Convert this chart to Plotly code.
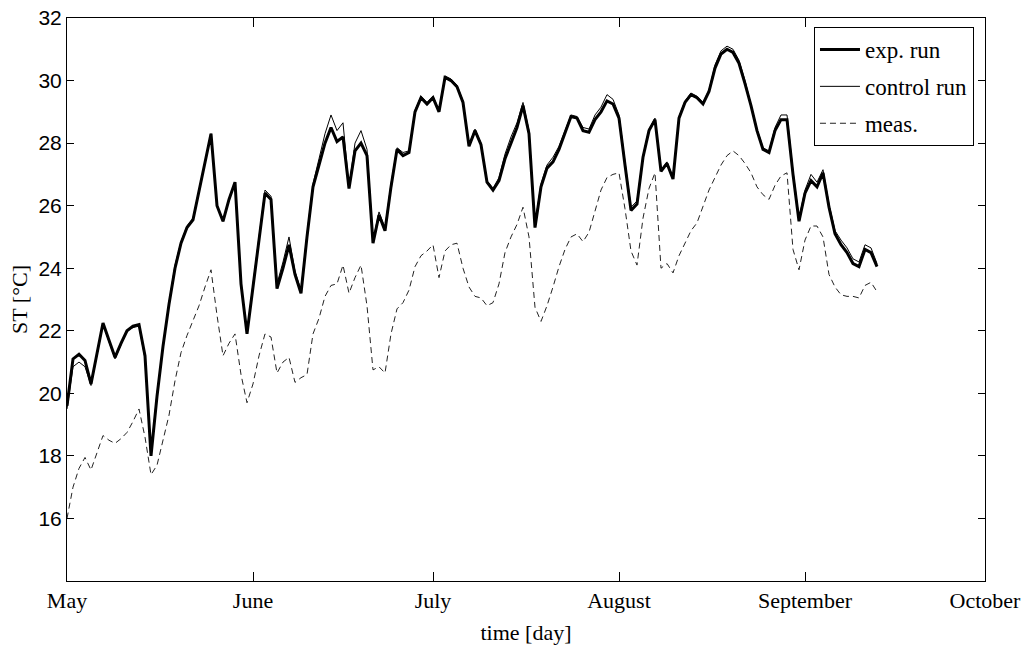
import plotly.graph_objects as go

# day index 0 = 1 May
days = list(range(136))

exp_run = [19.6, 21.1, 21.25, 21.05, 20.3, 21.3, 22.25, 21.7, 21.15, 21.6,
           22.0, 22.15, 22.2, 21.2, 18.0, 19.9, 21.5, 22.85, 24.0, 24.8,
           25.3, 25.55, 26.5, 27.4, 28.3, 26.0, 25.5, 26.2, 26.75, 23.5,
           21.9, 23.4, 25.0, 26.4, 26.2, 23.35, 24.0, 24.75, 23.8, 23.2,
           25.0, 26.6, 27.3, 28.0, 28.5, 28.05, 28.2, 26.55, 27.75, 28.0,
           27.6, 24.8, 25.7, 25.2, 26.6, 27.8, 27.6, 27.7, 29.0, 29.45,
           29.25, 29.45, 29.0, 30.1, 30.0, 29.8, 29.3, 27.9, 28.4, 27.95,
           26.75, 26.5, 26.8, 27.5, 28.0, 28.5, 29.2, 28.3, 25.3, 26.6,
           27.2, 27.4, 27.8, 28.3, 28.85, 28.8, 28.4, 28.35, 28.75, 29.0,
           29.35, 29.25, 28.8, 27.3, 25.85, 26.05, 27.55, 28.4, 28.75, 27.1,
           27.35, 26.85, 28.8, 29.3, 29.55, 29.45, 29.25, 29.65, 30.4, 30.85,
           31.0, 30.9, 30.55, 29.9, 29.2, 28.4, 27.8, 27.7, 28.4, 28.75,
           28.75, 27.0, 25.5, 26.4, 26.8, 26.6, 27.05, 25.95, 25.1, 24.75,
           24.5, 24.15, 24.05, 24.6, 24.5, 24.05]

control_run = [19.5, 20.85, 21.0, 20.85, 20.25, 21.2, 22.2, 21.65, 21.1, 21.55,
               22.0, 22.1, 22.15, 21.1, 18.1, 20.0, 21.5, 22.9, 24.1, 24.85,
               25.35, 25.6, 26.5, 27.4, 28.3, 26.0, 25.5, 26.2, 26.7, 23.5,
               21.95, 23.5, 25.1, 26.5, 26.3, 23.5, 24.2, 25.0, 23.9, 23.3,
               25.1, 26.7, 27.5, 28.3, 28.9, 28.4, 28.65, 26.6, 28.0, 28.4,
               27.8, 24.9, 25.8, 25.3, 26.7, 27.85, 27.7, 27.75, 29.05, 29.5,
               29.3, 29.5, 29.05, 30.15, 30.05, 29.85, 29.35, 27.95, 28.45, 28.0,
               26.8, 26.55, 26.9, 27.65, 28.2, 28.65, 29.3, 28.4, 25.4, 26.7,
               27.3, 27.55, 27.9, 28.4, 28.9, 28.85, 28.5, 28.45, 28.9, 29.15,
               29.55, 29.4, 28.9, 27.4, 25.95, 26.15, 27.6, 28.45, 28.8, 27.15,
               27.4, 26.9, 28.85, 29.35, 29.6, 29.5, 29.3, 29.7, 30.5, 30.95,
               31.1, 31.0, 30.65, 30.0, 29.25, 28.45, 27.85, 27.75, 28.5, 28.9,
               28.9, 27.1, 25.6, 26.5, 27.0, 26.75, 27.15, 26.05, 25.2, 24.9,
               24.65, 24.3, 24.2, 24.75, 24.65, 24.15]

meas = [16.0, 17.0, 17.6, 17.95, 17.55, 18.1, 18.65, 18.5, 18.4, 18.55,
        18.75, 19.1, 19.5, 18.6, 17.4, 17.7, 18.5, 19.3, 20.4, 21.3,
        21.85, 22.3, 22.8, 23.4, 23.95, 22.5, 21.2, 21.6, 21.9, 20.6,
        19.7, 20.3, 21.2, 21.9, 21.8, 20.65, 21.0, 21.15, 20.35, 20.5,
        20.6, 21.9, 22.4, 23.1, 23.45, 23.5, 24.1, 23.2, 23.7, 24.1,
        22.8, 20.75, 20.85, 20.65, 21.9, 22.7, 22.9, 23.3, 24.05, 24.4,
        24.55, 24.75, 23.7, 24.55, 24.75, 24.8, 24.0, 23.4, 23.1, 23.05,
        22.8, 22.9, 23.5, 24.5, 25.0, 25.4, 25.95, 25.0, 22.75, 22.3,
        22.8, 23.4, 24.05, 24.6, 25.0, 25.1, 24.85, 25.15, 25.8, 26.5,
        26.9, 27.0, 27.05, 25.9, 24.55, 24.1, 25.6, 26.55, 27.05, 24.0,
        24.15, 23.85, 24.4, 24.8, 25.2, 25.45, 26.0, 26.5, 26.9, 27.3,
        27.6, 27.75, 27.6, 27.35, 27.05, 26.6, 26.35, 26.2, 26.65, 26.95,
        27.05, 24.6, 23.95, 24.9, 25.35, 25.35, 25.0, 23.8, 23.4, 23.15,
        23.1, 23.1, 23.05, 23.45, 23.55, 23.25]

month_days = [0, 31, 61, 92, 123, 153]
month_labels = ["May", "June", "July", "August", "September", "October"]
y_ticks = [16, 18, 20, 22, 24, 26, 28, 30, 32]

serif = "Liberation Serif"
sans = "Liberation Sans"

fig = go.Figure()
fig.add_trace(go.Scatter(x=days, y=exp_run, mode="lines", name="exp. run",
                         legendgroup="a",
                         line=dict(color="black", width=3)))
fig.add_trace(go.Scatter(x=days, y=control_run, mode="lines", name="control run",
                         legendgroup="b",
                         line=dict(color="black", width=1)))
fig.add_trace(go.Scatter(x=days, y=meas, mode="lines", name="meas.",
                         legendgroup="c",
                         line=dict(color="#222222", width=1, dash="6px,4px")))

fig.update_layout(
    width=1024, height=660,
    margin=dict(l=67, r=39, t=18, b=79, autoexpand=False),
    paper_bgcolor="white", plot_bgcolor="white",
    showlegend=True,
    legend=dict(x=0.988, y=0.984, xanchor="right", yanchor="top",
                bgcolor="white", bordercolor="black", borderwidth=1,
                font=dict(family=serif, size=23, color="black"),
                tracegroupgap=4, itemwidth=40),
    xaxis=dict(range=[0, 153], tickmode="array", tickvals=month_days,
               ticktext=month_labels, ticks="inside", ticklen=9,
               tickcolor="black", showline=True, linecolor="black",
               linewidth=1, mirror="ticks", showgrid=False, zeroline=False,
               automargin=False,
               tickfont=dict(family=serif, size=22, color="black"),
               title=dict(text="time [day]", standoff=12,
                          font=dict(family=serif, size=22, color="black"))),
    yaxis=dict(range=[14, 32], tickmode="array", tickvals=y_ticks,
               ticks="inside", ticklen=7, tickcolor="black",
               showline=True, linecolor="black", linewidth=1,
               mirror="ticks", showgrid=False, zeroline=False,
               automargin=False,
               tickfont=dict(family=sans, size=21, color="black"),
               title=dict(text="ST [°C]", standoff=4,
                          font=dict(family=serif, size=22, color="black"))),
)

fig.write_html("out.html", config={"displayModeBar": False},
               post_script="document.body.style.margin='0';document.body.style.overflow='hidden';")
